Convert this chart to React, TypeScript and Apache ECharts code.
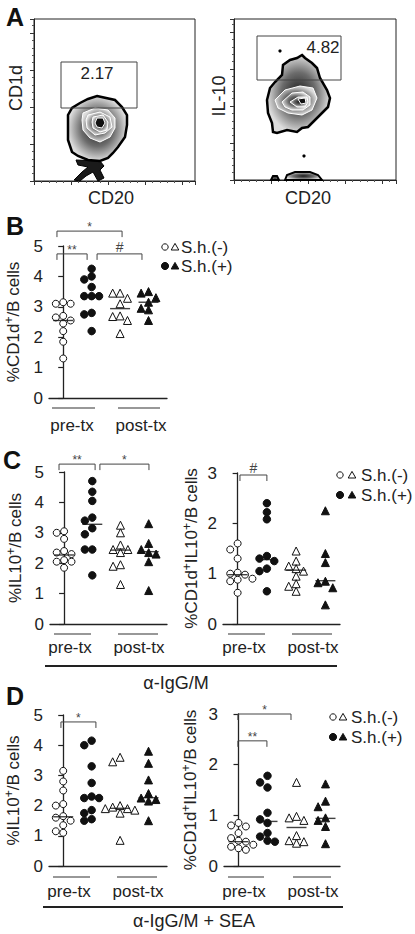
import React, { useEffect, useRef } from 'react';
import * as echarts from 'echarts';

const FONT = '"Liberation Sans", Arial, Helvetica, sans-serif';

// ---------------- Panel A : flow plots (channel units) ----------------
const aLeftOuter = [[63,85],[81,81],[88,74],[93,66],[93,56],[91,44],[84,34],[79,28],[74,23],[66,20],[54,21],[44,25],[38,29],[34,41],[34,66],[38,73],[46,78],[54,82]];
const aLeftRings = [
  [[49,68],[61,73],[74,71],[81,63],[81,53],[76,44],[66,39],[56,43],[49,51],[48,61]],
  [[54,66],[66,69],[76,64],[78,54],[71,48],[61,46],[53,53],[52,61]],
  [[59,64],[69,66],[74,59],[73,51],[66,49],[59,53],[58,59]],
  [[63,63],[69,63],[71,58],[68,53],[63,54],[61,58]],
];
const aLeftDebris = [[[42,21],[66,20],[70,15],[66,11],[70,3],[64,0],[59,9],[52,5],[46,0],[40,1],[48,9],[54,14],[44,16]]];
const aLeftDots: number[][] = [];
const aLeftGate = [27, 73, 103, 119];
const aLeftGateText = '2.17';
const aLeftGateTextPos = [63, 108];

const aRightOuter = [[68,125],[71,122],[78,117],[83,112],[86,102],[93,90],[96,82],[94,73],[86,65],[81,60],[74,53],[68,52],[63,48],[53,50],[43,47],[39,48],[38,57],[34,67],[33,80],[36,92],[41,98],[48,105],[49,115],[56,120],[63,122]];
const aRightRings = [
  [[41,80],[51,90],[66,94],[79,92],[83,82],[78,70],[68,65],[54,67],[44,72]],
  [[48,78],[58,87],[69,88],[76,83],[76,75],[69,70],[58,70],[51,73]],
  [[56,78],[64,83],[73,83],[74,78],[71,73],[63,73]],
  [[64,81],[71,82],[72,77],[67,76]],
];
const aRightDebris = [[[51,0],[53,5],[61,8],[76,8],[84,5],[88,0]], [[37,0],[39,4],[43,4],[45,0]]];
const aRightDots = [[46,129],[70,24]];
const aRightGate = [23, 100, 107, 144];
const aRightGateText = '4.82';
const aRightGateTextPos = [89, 133];

// ---------------- Panel B : %CD1d+/B cells ----------------
const bPreNeg = [3.15, 3.1, 3.1, 2.7, 2.65, 2.55, 2.55, 2.45, 2.2, 1.85, 1.3];
const bPrePos = [4.25, 4.0, 3.9, 3.65, 3.35, 3.35, 3.35, 2.8, 2.75, 2.2];
const bPostNeg = [3.45, 3.45, 3.28, 3.1, 2.7, 2.68, 2.55, 2.12];
const bPostPos = [3.5, 3.45, 3.3, 3.15, 2.95, 2.9, 2.55];
const bMedians = [2.55, 3.35, 2.94, 3.15];
const bBrackets: [number, number, number, string][] = [[-0.22, 2.07, 5.49, '*'], [-0.22, 0.84, 4.74, '**'], [1.19, 2.77, 4.74, '#']];

// ---------------- Panel C : alpha-IgG/M ----------------
const cPreNeg = [3.05, 3.0, 2.8, 2.4, 2.35, 2.3, 2.1, 2.05, 2.05, 1.9, 1.85];
const cPrePos = [4.7, 4.35, 4.05, 3.5, 3.4, 3.15, 2.95, 2.45, 2.45, 1.6];
const cPostNeg = [3.25, 3.0, 2.6, 2.45, 2.45, 2.35, 1.95, 1.9, 1.3];
const cPostPos = [3.3, 2.65, 2.45, 2.35, 2.3, 2.05, 1.1];
const cMedians = [2.27, 3.28, 2.43, 2.38];
const cBrackets: [number, number, number, string][] = [[-0.18, 1.1, 5.26, '**'], [1.27, 3.01, 5.26, '*']];

const crPreNeg = [1.6, 1.48, 1.3, 1.02, 1.0, 0.98, 0.95, 0.9, 0.88, 0.85, 0.62];
const crPrePos = [2.4, 2.22, 2.08, 1.35, 1.3, 1.25, 1.1, 1.05, 0.65];
const crPostNeg = [1.45, 1.25, 1.15, 1.1, 1.05, 0.95, 0.8, 0.75, 0.65];
const crPostPos = [2.25, 1.4, 1.22, 0.85, 0.82, 0.72, 0.38];
const crMedians = [0.98, 1.28, 1.07, 0.86];
const crBrackets: [number, number, number, string][] = [[0.08, 1.0, 2.96, '#']];

// ---------------- Panel D : alpha-IgG/M + SEA ----------------
const dPreNeg = [3.15, 2.8, 2.5, 2.05, 2.0, 1.65, 1.6, 1.5, 1.35, 1.15, 1.1];
const dPrePos = [4.15, 4.0, 3.3, 2.75, 2.3, 2.25, 2.25, 1.85, 1.75, 1.55, 1.5];
const dPostNeg = [3.6, 3.45, 2.0, 1.95, 1.9, 1.9, 1.85, 1.75, 0.85];
const dPostPos = [3.8, 3.4, 2.85, 2.4, 2.25, 2.2, 2.15, 1.5];
const dMedians = [1.63, 2.26, 1.91, 2.26];
const dBrackets: [number, number, number, string][] = [[-0.08, 1.15, 4.77, '*']];

const drPreNeg = [0.85, 0.8, 0.78, 0.65, 0.55, 0.5, 0.48, 0.45, 0.42, 0.38, 0.35, 0.32];
const drPrePos = [1.78, 1.65, 1.55, 1.05, 0.92, 0.85, 0.65, 0.58, 0.5, 0.48];
const drPostNeg = [1.65, 0.98, 0.95, 0.9, 0.6, 0.5, 0.48, 0.45];
const drPostPos = [1.62, 1.28, 1.17, 0.95, 0.9, 0.78, 0.44];
const drMedians = [0.48, 0.88, 0.76, 0.94];
const drBrackets: [number, number, number, string][] = [[-0.02, 1.81, 3.0, '*'], [-0.02, 0.98, 2.47, '**']];

const NAME_CD1D = '%CD1d{sup|+}/B cells';
const NAME_IL10 = '%IL10{sup|+}/B cells';
const NAME_DP = '%CD1d{sup|+}IL10{sup|+}/B cells';

const flowPlots = [
  { grid: { left: 34, top: 19, width: 161, height: 162 }, xMax: 161, yMax: 162, outer: aLeftOuter, rings: aLeftRings, debris: aLeftDebris, darkDebris: true, dots: aLeftDots, gate: aLeftGate, gateText: aLeftGateText, gateTextPos: aLeftGateTextPos },
  { grid: { left: 234, top: 19, width: 162, height: 161 }, xMax: 162, yMax: 161, outer: aRightOuter, rings: aRightRings, debris: aRightDebris, darkDebris: false, dots: aRightDots, gate: aRightGate, gateText: aRightGateText, gateTextPos: aRightGateTextPos },
];

const panels = [
  { grid: { left: 49, top: 246, width: 118, height: 152 }, yMax: 5, xMax: 3.65, groups: [bPreNeg, bPrePos, bPostNeg, bPostPos], medians: bMedians, brackets: bBrackets, yName: NAME_CD1D, nameGap: 26 },
  { grid: { left: 50, top: 472, width: 117, height: 152 }, yMax: 5, xMax: 3.65, groups: [cPreNeg, cPrePos, cPostNeg, cPostPos], medians: cMedians, brackets: cBrackets, yName: NAME_IL10, nameGap: 25 },
  { grid: { left: 223, top: 473, width: 117, height: 151 }, yMax: 3, xMax: 3.5, groups: [crPreNeg, crPrePos, crPostNeg, crPostPos], medians: crMedians, brackets: crBrackets, yName: NAME_DP, nameGap: 22 },
  { grid: { left: 49, top: 715, width: 118, height: 151 }, yMax: 5, xMax: 3.65, groups: [dPreNeg, dPrePos, dPostNeg, dPostPos], medians: dMedians, brackets: dBrackets, yName: NAME_IL10, nameGap: 26 },
  { grid: { left: 224, top: 714, width: 116, height: 152 }, yMax: 3, xMax: 3.5, groups: [drPreNeg, drPrePos, drPostNeg, drPostPos], medians: drMedians, brackets: drBrackets, yName: NAME_DP, nameGap: 24 },
];

const GROUP_STYLE = [
  { symbol: 'circle', size: 7, filled: false },
  { symbol: 'circle', size: 7.5, filled: true },
  { symbol: 'triangle', size: 8, filled: false },
  { symbol: 'triangle', size: 8, filled: true },
];

// deterministic beeswarm layout: spreads points of nearly equal value sideways
function swarm(values: number[], group: number, pxX: number, pxY: number, d: number) {
  const placed: { x: number; y: number }[] = [];
  const out: number[][] = [];
  const order = values.map((_, i) => i).sort((a, b) => values[b] - values[a]);
  for (const i of order) {
    const y = values[i] * pxY;
    let off = 0;
    for (let k = 0; k < 30; k++) {
      const step = Math.ceil(k / 2) * (k % 2 === 1 ? -1 : 1);
      const cand = step * d;
      if (placed.every((p) => Math.hypot(p.x - cand, p.y - y) >= d * 0.92)) { off = cand; break; }
    }
    placed.push({ x: off, y });
    out.push([group + off / pxX, values[i]]);
  }
  return out;
}

const zebra = () => ({
  type: 'radial', x: 0.5, y: 0.5, r: 0.5,
  colorStops: [
    { offset: 0, color: '#1c1c1c' },
    { offset: 0.55, color: '#6c6c6c' },
    { offset: 1, color: '#dcdcdc' },
  ],
});

function txt(text: string, x: number, y: number, size: number, opts: any = {}) {
  return {
    type: 'text', x, y, rotation: opts.rotation || 0, silent: true,
    style: {
      text, fill: opts.color || '#222', fontSize: size, fontFamily: FONT, fontWeight: opts.bold ? 'bold' : 'normal',
      align: opts.align || 'center', verticalAlign: opts.va || 'middle',
      textAlign: opts.align || 'center', textVerticalAlign: opts.va || 'middle',
    },
  };
}
function ln(x1: number, y1: number, x2: number, y2: number, w = 1.2, c = '#333') {
  return { type: 'line', silent: true, shape: { x1, y1, x2, y2 }, style: { stroke: c, lineWidth: w } };
}
function legend(cx: number, tx: number, tx2: number, y1: number, y2: number) {
  const tri = (x: number, y: number, filled: boolean) => ({
    type: 'polygon', silent: true,
    shape: { points: [[x, y - 3.6], [x + 3.8, y + 3], [x - 3.8, y + 3]] },
    style: { fill: filled ? '#111' : '#fff', stroke: '#111', lineWidth: 1 },
  });
  return [
    { type: 'circle', silent: true, shape: { cx, cy: y1, r: 3.2 }, style: { fill: '#fff', stroke: '#111', lineWidth: 1 } },
    tri(tx, y1, false),
    txt('S.h.(-)', tx2, y1, 17, { align: 'left' }),
    { type: 'circle', silent: true, shape: { cx, cy: y2, r: 3.6 }, style: { fill: '#111', stroke: '#111', lineWidth: 1 } },
    tri(tx, y2, true),
    txt('S.h.(+)', tx2, y2, 17, { align: 'left' }),
  ];
}

function buildOption() {
  const grid: any[] = [];
  const xAxis: any[] = [];
  const yAxis: any[] = [];
  const series: any[] = [];

  flowPlots.forEach((fp, i) => {
    grid.push({ ...fp.grid, show: true, borderColor: '#222', borderWidth: 1, backgroundColor: 'transparent' });
    const common = {
      gridIndex: i, type: 'value', min: 0, interval: 37,
      axisLabel: { show: false }, splitLine: { show: false },
      axisLine: { show: true, lineStyle: { color: '#222', width: 1 } },
      axisTick: { show: true, length: 4, lineStyle: { color: '#333', width: 1 } },
      minorTick: { show: true, splitNumber: 5, length: 2, lineStyle: { color: '#555' } },
    };
    xAxis.push({ ...common, max: fp.xMax });
    yAxis.push({ ...common, max: fp.yMax });
    series.push({
      type: 'custom', xAxisIndex: i, yAxisIndex: i, silent: true, clip: false,
      data: [[0, 0]], encode: { x: 0, y: 1 },
      renderItem: (params: any, api: any) => {
        const pt = (p: number[]) => api.coord(p);
        const ch: any[] = [];
        fp.debris.forEach((d) => ch.push({
          type: 'polygon', shape: { points: d.map(pt) },
          style: fp.darkDebris ? { fill: '#1a1a1a', stroke: '#000', lineWidth: 1 } : { fill: zebra(), stroke: '#000', lineWidth: 2 },
        }));
        ch.push({ type: 'polygon', shape: { points: fp.outer.map(pt) }, style: { fill: zebra(), stroke: '#000', lineWidth: 2.5 } });
        fp.rings.forEach((r, k) => ch.push({
          type: 'polygon', shape: { points: r.map(pt) },
          style: { fill: k === fp.rings.length - 1 ? '#111' : zebra(), stroke: '#fff', lineWidth: 1 },
        }));
        fp.dots.forEach((d) => { const p = pt(d); ch.push({ type: 'circle', shape: { cx: p[0], cy: p[1], r: 1.6 }, style: { fill: '#000' } }); });
        const g1 = pt([fp.gate[0], fp.gate[3]]);
        const g2 = pt([fp.gate[2], fp.gate[1]]);
        ch.push({ type: 'rect', shape: { x: g1[0], y: g1[1], width: g2[0] - g1[0], height: g2[1] - g1[1] }, style: { fill: 'none', stroke: '#444', lineWidth: 1 } });
        const tp = pt(fp.gateTextPos);
        ch.push({ type: 'text', x: tp[0], y: tp[1], style: { text: fp.gateText, fontSize: 17, fontFamily: FONT, fill: '#222', align: 'center', verticalAlign: 'middle' } });
        return { type: 'group', children: ch };
      },
    });
  });

  panels.forEach((p, j) => {
    const gi = j + flowPlots.length;
    grid.push({ ...p.grid, show: false });
    xAxis.push({
      gridIndex: gi, type: 'value', min: -0.5, max: p.xMax,
      axisLine: { show: true, onZero: false, lineStyle: { color: '#222', width: 1.3 } },
      axisTick: { show: false }, axisLabel: { show: false }, splitLine: { show: false },
    });
    yAxis.push({
      gridIndex: gi, type: 'value', min: 0, max: p.yMax, interval: 1,
      axisLine: { show: true, lineStyle: { color: '#222', width: 1.3 } },
      axisTick: { show: true, length: 5, lineStyle: { color: '#222', width: 1.2 } },
      axisLabel: { fontSize: 17, color: '#222', fontFamily: FONT, margin: 6 },
      splitLine: { show: false },
      name: p.yName, nameLocation: 'middle', nameRotate: 90, nameGap: p.nameGap,
      nameTextStyle: {
        fontSize: 17, fontFamily: FONT, color: '#222', lineHeight: 20,
        rich: { sup: { fontSize: 12, fontFamily: FONT, color: '#222', verticalAlign: 'top', lineHeight: 20 } },
      },
    });
    const pxX = p.grid.width / (p.xMax + 0.5);
    const pxY = p.grid.height / p.yMax;
    p.groups.forEach((vals, g) => {
      const st = GROUP_STYLE[g];
      series.push({
        type: 'scatter', xAxisIndex: gi, yAxisIndex: gi, silent: true, z: 3,
        symbol: st.symbol, symbolSize: st.size,
        itemStyle: { color: st.filled ? '#111' : '#fff', borderColor: '#111', borderWidth: 1, opacity: 1 },
        data: swarm(vals, g, pxX, pxY, 7.4),
      });
    });
    series.push({
      type: 'scatter', xAxisIndex: gi, yAxisIndex: gi, silent: true, z: 4,
      symbol: 'rect', symbolSize: [20, 1.4], itemStyle: { color: '#111' },
      data: p.medians.map((m, g) => [g, m]),
    });
    series.push({
      type: 'custom', xAxisIndex: gi, yAxisIndex: gi, silent: true, clip: false, z: 5,
      data: p.brackets.map((b) => [b[0], b[1], b[2]]),
      encode: { x: [0, 1], y: 2 },
      renderItem: (params: any, api: any) => {
        const lbl = p.brackets[params.dataIndex][3];
        const y = api.value(2);
        const a = api.coord([api.value(0), y]);
        const b = api.coord([api.value(1), y]);
        const drop = 6;
        return {
          type: 'group',
          children: [
            { type: 'polyline', shape: { points: [[a[0], a[1] + drop], [a[0], a[1]], [b[0], b[1]], [b[0], b[1] + drop]] }, style: { stroke: '#444', fill: 'none', lineWidth: 1 } },
            { type: 'text', x: (a[0] + b[0]) / 2, y: a[1] + (lbl === '#' ? 0 : 2), style: { text: lbl, fontSize: lbl === '#' ? 14 : 12, fontFamily: FONT, fill: '#444', align: 'center', verticalAlign: 'bottom' } },
          ],
        };
      },
    });
  });

  const g: any[] = [
    txt('A', 15, 17, 25, { bold: true, color: '#111' }),
    txt('B', 15, 226, 25, { bold: true, color: '#111' }),
    txt('C', 12, 460, 25, { bold: true, color: '#111' }),
    txt('D', 15, 696, 25, { bold: true, color: '#111' }),
    txt('CD1d', 16, 88, 18, { rotation: Math.PI / 2 }),
    txt('IL-10', 219, 96, 18, { rotation: Math.PI / 2 }),
    txt('CD20', 111, 198, 18),
    txt('CD20', 308, 198, 18),
    ...legend(165, 175, 181, 247, 266),
    ...legend(340, 352, 361, 475, 495),
    ...legend(333, 343, 351, 717, 737),
    ln(52, 408, 95, 408), ln(118, 408, 160, 408),
    txt('pre-tx', 72, 425, 17), txt('post-tx', 141, 425, 17),
    ln(54, 634, 91, 634), ln(118, 634, 158, 634),
    txt('pre-tx', 70, 647, 17), txt('post-tx', 139, 647, 17),
    ln(228, 634, 265, 634), ln(292, 634, 332, 634),
    txt('pre-tx', 244, 647, 17), txt('post-tx', 313, 647, 17),
    ln(53, 877, 90, 877), ln(117, 877, 157, 877),
    txt('pre-tx', 69, 891, 17), txt('post-tx', 138, 891, 17),
    ln(228, 877, 264, 877), ln(293, 877, 331, 877),
    txt('pre-tx', 244, 891, 17), txt('post-tx', 313, 891, 17),
    ln(45, 666, 337, 666, 2, '#222'),
    txt('α-IgG/M', 176, 683, 18),
    ln(43, 907, 343, 907, 2, '#222'),
    txt('α-IgG/M + SEA', 194, 921, 18),
  ];

  return {
    animation: false,
    backgroundColor: '#fff',
    textStyle: { fontFamily: FONT },
    grid, xAxis, yAxis, series,
    graphic: { elements: g },
  };
}

export default function App() {
  const ref = useRef<HTMLDivElement>(null);
  useEffect(() => {
    if (!ref.current) return;
    const chart = echarts.init(ref.current, undefined, { renderer: 'svg' });
    chart.setOption(buildOption() as any);
    return () => chart.dispose();
  }, []);
  return <div ref={ref} style={{ position: 'absolute', left: 0, top: 0, width: 415, height: 934, background: '#fff' }} />;
}
